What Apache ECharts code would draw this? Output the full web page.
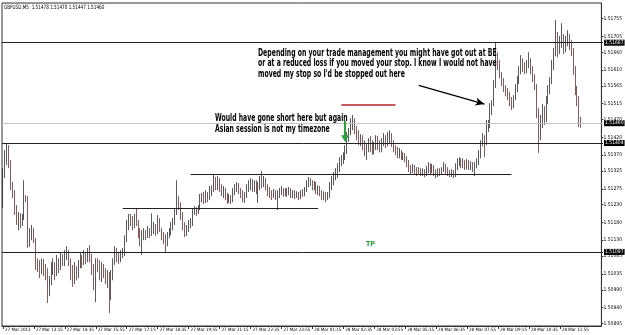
<!DOCTYPE html>
<html><head><meta charset="utf-8">
<script src="https://cdn.jsdelivr.net/npm/echarts@6/dist/echarts.min.js"></script>
<style>html,body{margin:0;padding:0;background:#fff}#c{width:625px;height:335px}</style>
</head><body><div id="c"></div>
<script>
const closes = [
1.51322,1.51356,1.51384,1.51342,1.51285,1.51266,1.51215,1.51187,1.51201,1.51181,
1.51192,1.51252,1.51249,1.51116,1.51144,1.51158,1.51130,1.51068,1.51060,1.51046,
1.51068,1.51051,1.51040,1.50989,1.51017,1.51046,1.51060,1.51040,1.51068,1.51051,
1.51079,1.51068,1.51085,1.51096,1.51068,1.51040,1.51023,1.51046,1.51032,1.51060,
1.51079,1.51068,1.51088,1.51079,1.51096,1.51085,1.51051,1.51040,1.51068,1.51060,
1.51032,1.51051,1.51040,1.51023,1.51029,1.50975,1.51032,1.51068,1.51102,1.51085,
1.51079,1.51088,1.51096,1.51136,1.51173,1.51192,1.51187,1.51173,1.51192,1.51181,
1.51153,1.51130,1.51144,1.51153,1.51142,1.51158,1.51147,1.51158,1.51170,1.51153,
1.51181,1.51158,1.51142,1.51136,1.51125,1.51144,1.51153,1.51170,1.51181,1.51209,
1.51243,1.51229,1.51201,1.51173,1.51153,1.51164,1.51173,1.51181,1.51209,1.51215,
1.51209,1.51220,1.51249,1.51254,1.51243,1.51257,1.51249,1.51266,1.51271,1.51299,
1.51285,1.51299,1.51277,1.51266,1.51271,1.51254,1.51243,1.51252,1.51243,1.51266,
1.51277,1.51283,1.51271,1.51260,1.51249,1.51257,1.51277,1.51285,1.51294,1.51277,
1.51288,1.51271,1.51283,1.51299,1.51288,1.51299,1.51283,1.51271,1.51260,1.51254,
1.51266,1.51254,1.51260,1.51266,1.51271,1.51260,1.51268,1.51263,1.51271,1.51257,
1.51263,1.51254,1.51260,1.51252,1.51266,1.51260,1.51271,1.51288,1.51299,1.51294,
1.51283,1.51288,1.51271,1.51277,1.51266,1.51254,1.51260,1.51249,1.51257,1.51283,
1.51294,1.51311,1.51316,1.51333,1.51350,1.51356,1.51367,1.51384,1.51418,1.51435,
1.51455,1.51463,1.51440,1.51426,1.51412,1.51418,1.51398,1.51384,1.51390,1.51407,
1.51395,1.51384,1.51395,1.51412,1.51398,1.51390,1.51407,1.51418,1.51407,1.51412,
1.51424,1.51407,1.51390,1.51384,1.51373,1.51378,1.51367,1.51370,1.51361,1.51347,
1.51333,1.51328,1.51336,1.51328,1.51322,1.51328,1.51319,1.51325,1.51316,1.51328,
1.51339,1.51328,1.51333,1.51322,1.51316,1.51325,1.51319,1.51328,1.51339,1.51328,
1.51322,1.51316,1.51322,1.51314,1.51333,1.51350,1.51356,1.51342,1.51350,1.51339,
1.51347,1.51336,1.51345,1.51333,1.51342,1.51350,1.51370,1.51404,1.51418,1.51407,
1.51446,1.51455,1.51497,1.51517,1.51567,1.51652,1.51624,1.51596,1.51576,1.51559,
1.51548,1.51539,1.51525,1.51514,1.51531,1.51559,1.51581,1.51610,1.51632,1.51621,
1.51610,1.51627,1.51638,1.51610,1.51587,1.51565,1.51497,1.51426,1.51469,1.51491,
1.51474,1.51525,1.51553,1.51581,1.51624,1.51660,1.51708,1.51666,1.51689,1.51700,
1.51672,1.51694,1.51700,1.51680,1.51660,1.51610,1.51553,1.51525,1.51474,1.51460
];
const opens = [
1.51243,1.51322,1.51356,1.51384,1.51342,1.51285,1.51266,1.51215,1.51187,1.51201,
1.51181,1.51192,1.51252,1.51249,1.51116,1.51144,1.51158,1.51130,1.51068,1.51060,
1.51046,1.51068,1.51051,1.51040,1.50989,1.51017,1.51046,1.51060,1.51040,1.51068,
1.51051,1.51079,1.51068,1.51085,1.51096,1.51068,1.51040,1.51023,1.51046,1.51032,
1.51060,1.51079,1.51068,1.51088,1.51079,1.51096,1.51085,1.51051,1.51040,1.51068,
1.51060,1.51032,1.51051,1.51040,1.51023,1.51029,1.50975,1.51032,1.51068,1.51102,
1.51085,1.51079,1.51088,1.51096,1.51136,1.51173,1.51192,1.51187,1.51173,1.51192,
1.51181,1.51153,1.51130,1.51144,1.51153,1.51142,1.51158,1.51147,1.51158,1.51170,
1.51153,1.51181,1.51158,1.51142,1.51136,1.51125,1.51144,1.51153,1.51170,1.51181,
1.51209,1.51243,1.51229,1.51201,1.51173,1.51153,1.51164,1.51173,1.51181,1.51209,
1.51215,1.51209,1.51220,1.51249,1.51254,1.51243,1.51257,1.51249,1.51266,1.51271,
1.51299,1.51285,1.51299,1.51277,1.51266,1.51271,1.51254,1.51243,1.51252,1.51243,
1.51266,1.51277,1.51283,1.51271,1.51260,1.51249,1.51257,1.51277,1.51285,1.51294,
1.51277,1.51288,1.51271,1.51283,1.51299,1.51288,1.51299,1.51283,1.51271,1.51260,
1.51254,1.51266,1.51254,1.51260,1.51266,1.51271,1.51260,1.51268,1.51263,1.51271,
1.51257,1.51263,1.51254,1.51260,1.51252,1.51266,1.51260,1.51271,1.51288,1.51299,
1.51294,1.51283,1.51288,1.51271,1.51277,1.51266,1.51254,1.51260,1.51249,1.51257,
1.51283,1.51294,1.51311,1.51316,1.51333,1.51350,1.51356,1.51367,1.51384,1.51418,
1.51435,1.51455,1.51463,1.51440,1.51426,1.51412,1.51418,1.51398,1.51384,1.51390,
1.51407,1.51395,1.51384,1.51395,1.51412,1.51398,1.51390,1.51407,1.51418,1.51407,
1.51412,1.51424,1.51407,1.51390,1.51384,1.51373,1.51378,1.51367,1.51370,1.51361,
1.51347,1.51333,1.51328,1.51336,1.51328,1.51322,1.51328,1.51319,1.51325,1.51316,
1.51328,1.51339,1.51328,1.51333,1.51322,1.51316,1.51325,1.51319,1.51328,1.51339,
1.51328,1.51322,1.51316,1.51322,1.51314,1.51333,1.51350,1.51356,1.51342,1.51350,
1.51339,1.51347,1.51336,1.51345,1.51333,1.51342,1.51350,1.51370,1.51404,1.51418,
1.51407,1.51446,1.51455,1.51497,1.51517,1.51567,1.51652,1.51624,1.51596,1.51576,
1.51559,1.51548,1.51539,1.51525,1.51514,1.51531,1.51559,1.51581,1.51610,1.51632,
1.51621,1.51610,1.51627,1.51638,1.51610,1.51587,1.51565,1.51497,1.51426,1.51469,
1.51491,1.51474,1.51525,1.51553,1.51581,1.51624,1.51660,1.51708,1.51666,1.51689,
1.51700,1.51672,1.51694,1.51700,1.51680,1.51660,1.51610,1.51553,1.51525,1.51470
];
const highs = [
1.51333,1.51384,1.51404,1.51398,1.51356,1.51294,1.51271,1.51229,1.51209,1.51206,
1.51204,1.51299,1.51257,1.51254,1.51164,1.51173,1.51164,1.51136,1.51079,1.51074,
1.51079,1.51077,1.51063,1.51051,1.51029,1.51068,1.51079,1.51068,1.51088,1.51079,
1.51096,1.51091,1.51102,1.51113,1.51102,1.51079,1.51060,1.51068,1.51057,1.51074,
1.51094,1.51088,1.51102,1.51096,1.51108,1.51116,1.51091,1.51063,1.51079,1.51079,
1.51074,1.51068,1.51063,1.51051,1.51046,1.51040,1.51046,1.51079,1.51113,1.51108,
1.51096,1.51102,1.51108,1.51144,1.51187,1.51204,1.51204,1.51198,1.51204,1.51220,
1.51187,1.51164,1.51158,1.51164,1.51158,1.51170,1.51164,1.51206,1.51181,1.51175,
1.51201,1.51192,1.51164,1.51153,1.51147,1.51153,1.51164,1.51181,1.51192,1.51220,
1.51299,1.51254,1.51237,1.51209,1.51181,1.51173,1.51187,1.51192,1.51220,1.51226,
1.51223,1.51229,1.51260,1.51263,1.51266,1.51271,1.51266,1.51283,1.51285,1.51316,
1.51308,1.51311,1.51305,1.51288,1.51283,1.51277,1.51263,1.51260,1.51257,1.51277,
1.51288,1.51294,1.51291,1.51277,1.51271,1.51266,1.51288,1.51299,1.51305,1.51302,
1.51299,1.51299,1.51294,1.51311,1.51325,1.51311,1.51305,1.51288,1.51280,1.51271,
1.51274,1.51271,1.51271,1.51277,1.51283,1.51277,1.51277,1.51277,1.51280,1.51277,
1.51271,1.51271,1.51268,1.51266,1.51271,1.51274,1.51280,1.51299,1.51308,1.51305,
1.51299,1.51297,1.51294,1.51285,1.51283,1.51271,1.51268,1.51266,1.51266,1.51294,
1.51311,1.51322,1.51333,1.51347,1.51364,1.51370,1.51378,1.51398,1.51435,1.51446,
1.51474,1.51483,1.51474,1.51452,1.51440,1.51429,1.51426,1.51412,1.51404,1.51418,
1.51424,1.51412,1.51407,1.51426,1.51424,1.51412,1.51418,1.51432,1.51426,1.51435,
1.51440,1.51432,1.51412,1.51398,1.51393,1.51390,1.51384,1.51378,1.51376,1.51367,
1.51356,1.51342,1.51345,1.51342,1.51336,1.51336,1.51333,1.51333,1.51330,1.51339,
1.51350,1.51347,1.51345,1.51342,1.51330,1.51333,1.51333,1.51336,1.51350,1.51345,
1.51336,1.51328,1.51330,1.51328,1.51347,1.51361,1.51364,1.51361,1.51361,1.51356,
1.51359,1.51356,1.51353,1.51350,1.51350,1.51361,1.51384,1.51412,1.51432,1.51426,
1.51469,1.51469,1.51517,1.51525,1.51581,1.51689,1.51660,1.51638,1.51604,1.51587,
1.51567,1.51559,1.51548,1.51534,1.51539,1.51570,1.51593,1.51621,1.51652,1.51643,
1.51632,1.51638,1.51660,1.51643,1.51621,1.51598,1.51570,1.51502,1.51483,1.51514,
1.51508,1.51536,1.51567,1.51590,1.51638,1.51672,1.51751,1.51717,1.51706,1.51742,
1.51711,1.51706,1.51722,1.51711,1.51694,1.51672,1.51621,1.51565,1.51536,1.51478
];
const lows = [
1.51220,1.51305,1.51342,1.51333,1.51271,1.51249,1.51201,1.51173,1.51158,1.51164,
1.51170,1.51187,1.51237,1.51108,1.51111,1.51130,1.51122,1.51046,1.51040,1.51023,
1.51034,1.51029,1.51017,1.50953,1.50972,1.51003,1.51032,1.51017,1.51029,1.51037,
1.51046,1.51057,1.51057,1.51074,1.51057,1.51017,1.50998,1.51006,1.51017,1.51023,
1.51051,1.51051,1.51060,1.51063,1.51068,1.51068,1.51032,1.50989,1.50955,1.51040,
1.51017,1.51012,1.51023,1.51006,1.50995,1.50924,1.50961,1.51017,1.51060,1.51068,
1.51063,1.51068,1.51079,1.51085,1.51125,1.51158,1.51170,1.51158,1.51164,1.51170,
1.51136,1.51113,1.51088,1.51130,1.51130,1.51136,1.51136,1.51142,1.51147,1.51142,
1.51147,1.51153,1.51130,1.51119,1.51094,1.51113,1.51136,1.51144,1.51158,1.51173,
1.51201,1.51215,1.51187,1.51158,1.51139,1.51142,1.51153,1.51164,1.51170,1.51201,
1.51198,1.51204,1.51215,1.51237,1.51232,1.51235,1.51237,1.51243,1.51254,1.51266,
1.51271,1.51271,1.51266,1.51254,1.51249,1.51243,1.51232,1.51235,1.51232,1.51237,
1.51257,1.51266,1.51260,1.51249,1.51237,1.51235,1.51249,1.51266,1.51271,1.51266,
1.51266,1.51260,1.51235,1.51271,1.51277,1.51280,1.51271,1.51254,1.51249,1.51243,
1.51249,1.51243,1.51215,1.51249,1.51257,1.51252,1.51254,1.51252,1.51257,1.51249,
1.51249,1.51246,1.51249,1.51243,1.51246,1.51252,1.51254,1.51266,1.51280,1.51283,
1.51271,1.51271,1.51260,1.51257,1.51254,1.51243,1.51243,1.51237,1.51243,1.51249,
1.51271,1.51285,1.51299,1.51305,1.51322,1.51339,1.51345,1.51356,1.51373,1.51407,
1.51426,1.51440,1.51429,1.51412,1.51398,1.51395,1.51384,1.51367,1.51356,1.51378,
1.51378,1.51370,1.51373,1.51384,1.51384,1.51378,1.51378,1.51395,1.51390,1.51395,
1.51401,1.51393,1.51378,1.51370,1.51361,1.51361,1.51356,1.51356,1.51350,1.51336,
1.51322,1.51316,1.51319,1.51314,1.51311,1.51314,1.51311,1.51311,1.51308,1.51311,
1.51319,1.51316,1.51319,1.51311,1.51305,1.51308,1.51311,1.51314,1.51322,1.51316,
1.51311,1.51308,1.51308,1.51305,1.51308,1.51328,1.51339,1.51333,1.51333,1.51328,
1.51330,1.51328,1.51328,1.51322,1.51311,1.51333,1.51342,1.51361,1.51395,1.51364,
1.51398,1.51435,1.51446,1.51483,1.51508,1.51559,1.51610,1.51587,1.51565,1.51548,
1.51536,1.51525,1.51508,1.51497,1.51502,1.51525,1.51548,1.51570,1.51598,1.51604,
1.51598,1.51601,1.51615,1.51598,1.51576,1.51553,1.51474,1.51376,1.51412,1.51446,
1.51455,1.51463,1.51514,1.51542,1.51570,1.51610,1.51649,1.51646,1.51655,1.51672,
1.51655,1.51660,1.51677,1.51666,1.51649,1.51596,1.51539,1.51508,1.51449,1.51447
];
const xTickLabels = ["27 Mar 2013","27 Mar 13:15","27 Mar 14:35","27 Mar 15:55","27 Mar 17:15","27 Mar 18:35","27 Mar 19:55","27 Mar 21:15","27 Mar 22:35","27 Mar 23:55","28 Mar 01:15","28 Mar 02:35","28 Mar 03:55","28 Mar 05:15","28 Mar 06:35","28 Mar 07:55","28 Mar 09:15","28 Mar 10:35","28 Mar 11:55"];
const yTickValues = [1.51755,1.51705,1.51660,1.51610,1.51565,1.51515,1.51470,1.51420,1.51370,1.51325,1.51275,1.51230,1.51180,1.51130,1.51085,1.51035,1.50990,1.50940,1.50895];
const levelValues = [1.51687, 1.51460, 1.51404, 1.51097];
const levelColors = ['#222', '#c4c4c4', '#222', '#222'];
const segmentFrom = [97, 62, 175];
const segmentTo = [263, 163, 203];
const segmentPrice = [1.51316, 1.51220, 1.51511];
const segmentColors = ['#222', '#222', '#b5262b'];
const titleText = "GBPUSD,M5  1.51478 1.51470 1.51447 1.51460";

const categories = [];
const pad = n => (n < 10 ? '0' : '') + n;
const t0 = Date.UTC(2013, 2, 27, 11, 55);
for (let i = 0; i < 310; i++) {
  const t = new Date(t0 + i * 300000);
  categories.push(t.getUTCDate() + ' Mar ' + pad(t.getUTCHours()) + ':' + pad(t.getUTCMinutes()));
}
const candleData = closes.map((c, i) => [opens[i], c, lows[i], highs[i]]);

const narrow = '"Liberation Sans Narrow","DejaVu Sans Condensed",sans-serif';
const markData = [];
levelValues.forEach((v, k) => markData.push([
  {coord: [0, v], x: 2, lineStyle: {color: levelColors[k], width: 1, type: 'solid'},
   label: {show: true, position: 'end', formatter: v.toFixed(5), backgroundColor: '#000', color: '#fff',
           fontSize: 5, fontFamily: narrow, padding: [1, 1, 0, 1], distance: 1}},
  {coord: [309, v], x: 603}
]));
segmentFrom.forEach((f, k) => markData.push([
  {coord: [f, segmentPrice[k]], lineStyle: {color: segmentColors[k], width: k === 2 ? 1.5 : 1, type: 'solid'}, label: {show: false}},
  {coord: [segmentTo[k], segmentPrice[k]]}
]));
markData.push([
  {coord: [215, 1.51567], symbol: 'none', lineStyle: {color: '#000', width: 1.3, type: 'solid'}, label: {show: false}},
  {coord: [249, 1.51514], symbol: 'arrow', symbolSize: [6, 9]}
]);
markData.push([
  {coord: [177, 1.51466], symbol: 'none', lineStyle: {color: '#2e9e3e', width: 2.2, type: 'solid'}, label: {show: false}},
  {coord: [177, 1.51416], symbol: 'triangle', symbolSize: [8, 7]}
]);

const chart = echarts.init(document.getElementById('c'), null, {renderer: 'canvas'});
chart.setOption({
  animation: false,
  backgroundColor: '#fff',
  grid: {left: 2, right: 22, top: 3, bottom: 9, show: true, borderColor: '#333', borderWidth: 1, backgroundColor: '#fff'},
  xAxis: {
    type: 'category', data: categories, boundaryGap: true,
    axisLine: {show: true, lineStyle: {color: '#333'}},
    axisTick: {show: true, alignWithLabel: true, length: 3, lineStyle: {color: '#333'},
               interval: (idx) => idx % 16 === 0 && idx <= 288},
    axisLabel: {show: true, showMinLabel: true, interval: (idx) => idx % 16 === 0 && idx <= 288,
                formatter: (v, idx) => xTickLabels[Math.round(idx / 16)] || '',
                align: 'left', margin: 1, fontSize: 4.5, fontFamily: narrow, color: '#000', padding: [0, 0, 0, 2]},
    splitLine: {show: false}
  },
  yAxis: {
    type: 'value', position: 'right', min: 1.50888, max: 1.51799, scale: true,
    axisLine: {show: true, lineStyle: {color: '#333'}},
    axisTick: {show: true, length: 2, customValues: yTickValues, lineStyle: {color: '#333'}},
    axisLabel: {show: true, customValues: yTickValues, formatter: v => v.toFixed(5), fontSize: 5,
                fontFamily: narrow, color: '#000', margin: 2},
    splitLine: {show: false}
  },
  series: [{
    type: 'candlestick', data: candleData, barWidth: 0.8, z: 3,
    itemStyle: {color: '#111', color0: '#8b1c1c', borderColor: '#111', borderColor0: '#5c1010', borderWidth: 0.7}
  }, {
    type: 'line', data: [], z: 2, symbol: 'none', silent: true,
    markLine: {silent: true, symbol: 'none', animation: false, data: markData}
  }],
  graphic: [
    {type: 'text', x: 4, y: 4, scaleX: 0.77, style: {text: titleText, fontSize: 6, fontFamily: narrow, fill: '#000'}},
    {type: 'text', x: 258, y: 48, scaleX: 0.685, style: {
      text: 'Depending on your trade management you might have got out at BE\nor at a reduced loss if you moved your stop. I know I would not have\nmoved my stop so I\'d be stopped out here',
      fontSize: 10, fontWeight: 'bold', fontFamily: narrow, fill: '#000', lineHeight: 10.5}},
    {type: 'text', x: 215, y: 112.5, scaleX: 0.68, style: {
      text: 'Would have gone short here but again\nAsian session is not my timezone',
      fontSize: 10, fontWeight: 'bold', fontFamily: narrow, fill: '#000', lineHeight: 11}},
    {type: 'text', x: 366, y: 241, style: {text: 'TP', fontSize: 7, fontWeight: 'bold', fontFamily: narrow, fill: '#2e9e3e'}}
  ]
});
</script></body></html>
